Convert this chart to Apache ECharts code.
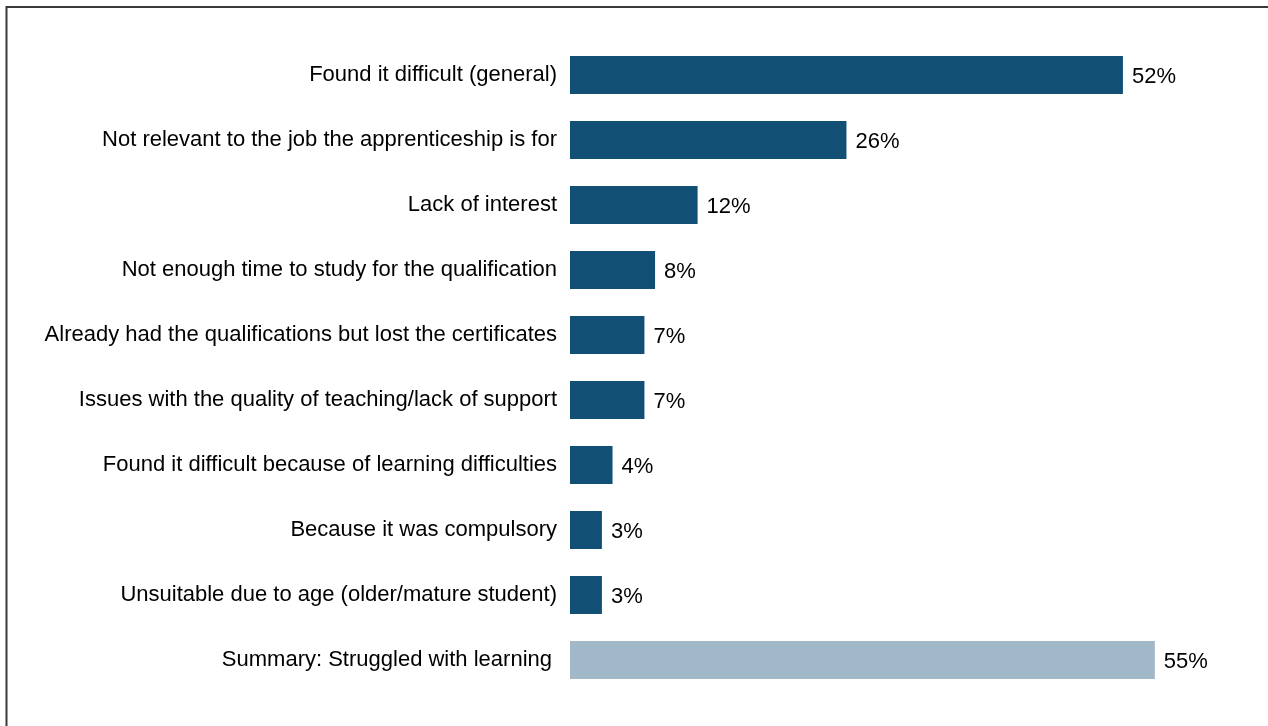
<!DOCTYPE html>
<html>
<head>
<meta charset="utf-8">
<script src="https://cdn.jsdelivr.net/npm/echarts@6/dist/echarts.min.js"></script>
<style>
  html, body { margin: 0; padding: 0; background: #fff; }
  #chart { width: 1268px; height: 726px; }
</style>
</head>
<body>
<div id="chart"></div>
<script>
// Reasons given, listed top to bottom
const categories = [
  'Found it difficult (general)',
  'Not relevant to the job the apprenticeship is for',
  'Lack of interest',
  'Not enough time to study for the qualification',
  'Already had the qualifications but lost the certificates',
  'Issues with the quality of teaching/lack of support',
  'Found it difficult because of learning difficulties',
  'Because it was compulsory',
  'Unsuitable due to age (older/mature student)',
  'Summary: Struggled with learning'
];
// Share of respondents (%)
const values = [52, 26, 12, 8, 7, 7, 4, 3, 3, 55];
// Index of the summary row, drawn in a lighter shade
const summaryIndex = 9;

const darkBlue = '#114f74';
const lightBlue = '#a1b8c8';
const font = 'Liberation Sans, Arial, sans-serif';

const chart = echarts.init(document.getElementById('chart'), null, { renderer: 'canvas' });

chart.setOption({
  animation: false,
  backgroundColor: '#ffffff',
  textStyle: { fontFamily: font },
  graphic: [{
    type: 'rect',
    shape: { x: 6.5, y: 7, width: 1400, height: 900 },
    style: { fill: 'none', stroke: '#3a3a3a', lineWidth: 2 },
    silent: true
  }],
  grid: { left: 570, top: 42.5, width: 638, height: 650, containLabel: false },
  xAxis: {
    type: 'value',
    min: 0,
    max: 60,
    show: false
  },
  yAxis: {
    type: 'category',
    inverse: true,
    data: categories,
    axisLine: { show: false },
    axisTick: { show: false },
    axisLabel: {
      margin: 13,
      color: '#000000',
      fontSize: 22,
      fontFamily: font,
      formatter: (val, i) => i === summaryIndex ? '{s|' + val + '}' : val,
      rich: {
        s: { fontSize: 22, fontFamily: font, color: '#000000', padding: [0, 5, 0, 0] }
      }
    }
  },
  series: [{
    type: 'bar',
    barWidth: 38,
    data: values.map((v, i) => ({
      value: v,
      itemStyle: { color: i === summaryIndex ? lightBlue : darkBlue }
    })),
    label: {
      show: true,
      position: 'right',
      distance: 9,
      offset: [0, 2],
      color: '#000000',
      fontSize: 22,
      fontFamily: font,
      formatter: p => p.value + '%'
    }
  }]
});
</script>
</body>
</html>
